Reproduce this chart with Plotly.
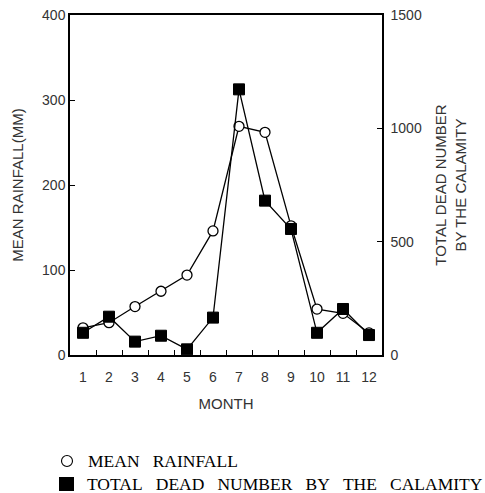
import plotly.graph_objects as go

months = list(range(1, 13))
month_labels = [str(m) for m in months]
rainfall = [32, 38, 57, 75, 94, 146, 269, 262, 152, 54, 49, 26]
dead = [98, 169, 59, 85, 25, 165, 1172, 681, 556, 98, 203, 88]

left_ticks = [0, 100, 200, 300, 400]
right_ticks = [0, 500, 1000, 1500]

fig = go.Figure()
fig.add_trace(go.Scatter(
    x=months, y=rainfall, mode="lines+markers", yaxis="y",
    line=dict(color="black", width=1.3),
    marker=dict(symbol="circle", size=10, color="white", line=dict(color="black", width=1.3)),
    showlegend=False))
fig.add_trace(go.Scatter(
    x=months, y=dead, mode="lines+markers", yaxis="y2",
    line=dict(color="black", width=1.3),
    marker=dict(symbol="square", size=11, color="black", line=dict(color="black", width=1)),
    showlegend=False))

tick_font = dict(family="Liberation Sans, Arial", size=14, color="#333")
title_font = dict(family="Liberation Sans, Arial", size=15, color="#333")

fig.update_layout(
    width=485, height=493,
    margin=dict(l=70, r=103, t=15, b=138, autoexpand=False),
    paper_bgcolor="white", plot_bgcolor="white",
    xaxis=dict(range=[0.5, 12.5], tickvals=months, ticktext=month_labels, ticks="",
               showline=True, linecolor="black", linewidth=1.5, mirror=True,
               showgrid=False, zeroline=False, tickfont=tick_font, automargin=False,
               ticklabelstandoff=8,
               title=dict(text="MONTH", font=title_font),
               minor=dict(tickvals=[m + 0.5 for m in months[:-1]], ticks="inside",
                          ticklen=5, tickcolor="black", showgrid=False)),
    yaxis=dict(range=[0, 400], tickvals=left_ticks, ticks="inside", ticklen=5,
               tickcolor="black", showline=True, linecolor="black", linewidth=1.5,
               showgrid=False, zeroline=False, tickfont=tick_font, automargin=False,
               title=dict(text="MEAN RAINFALL(MM)", font=title_font)),
    yaxis2=dict(range=[0, 1500], tickvals=right_ticks, ticks="inside", ticklen=5,
                tickcolor="black", showline=True, linecolor="black", linewidth=1.5,
                overlaying="y", side="right", showgrid=False, zeroline=False,
                tickfont=tick_font, automargin=False, ticklabelstandoff=4,
                title=dict(text="TOTAL DEAD NUMBER<br>BY THE CALAMITY", font=title_font)),
)

# legend glyphs (paper coordinates)
fig.add_shape(type="circle", xref="paper", yref="paper",
              x0=-0.0272, x1=0.008, y0=-0.328, y1=-0.2956,
              line=dict(color="black", width=1.1), fillcolor="white")
fig.add_shape(type="rect", xref="paper", yref="paper",
              x0=-0.0353, x1=0.0128, y0=-0.40, y1=-0.3588,
              line=dict(color="black", width=0), fillcolor="black")

sp = "&nbsp;&nbsp;&nbsp;"
legend_font = dict(family="Liberation Serif, Times New Roman", size=17.5, color="black")
fig.add_annotation(xref="paper", yref="paper", x=0.0513, y=-0.3103, xanchor="left", yanchor="middle",
                   text=sp.join(["MEAN", "RAINFALL"]), showarrow=False, font=legend_font)
fig.add_annotation(xref="paper", yref="paper", x=0.048, y=-0.378, xanchor="left", yanchor="middle",
                   text=sp.join(["TOTAL", "DEAD", "NUMBER", "BY", "THE", "CALAMITY"]),
                   showarrow=False, font=legend_font)

fig.write_html("out.html", post_script="document.body.style.margin='0px';",
               config={"displayModeBar": False})
